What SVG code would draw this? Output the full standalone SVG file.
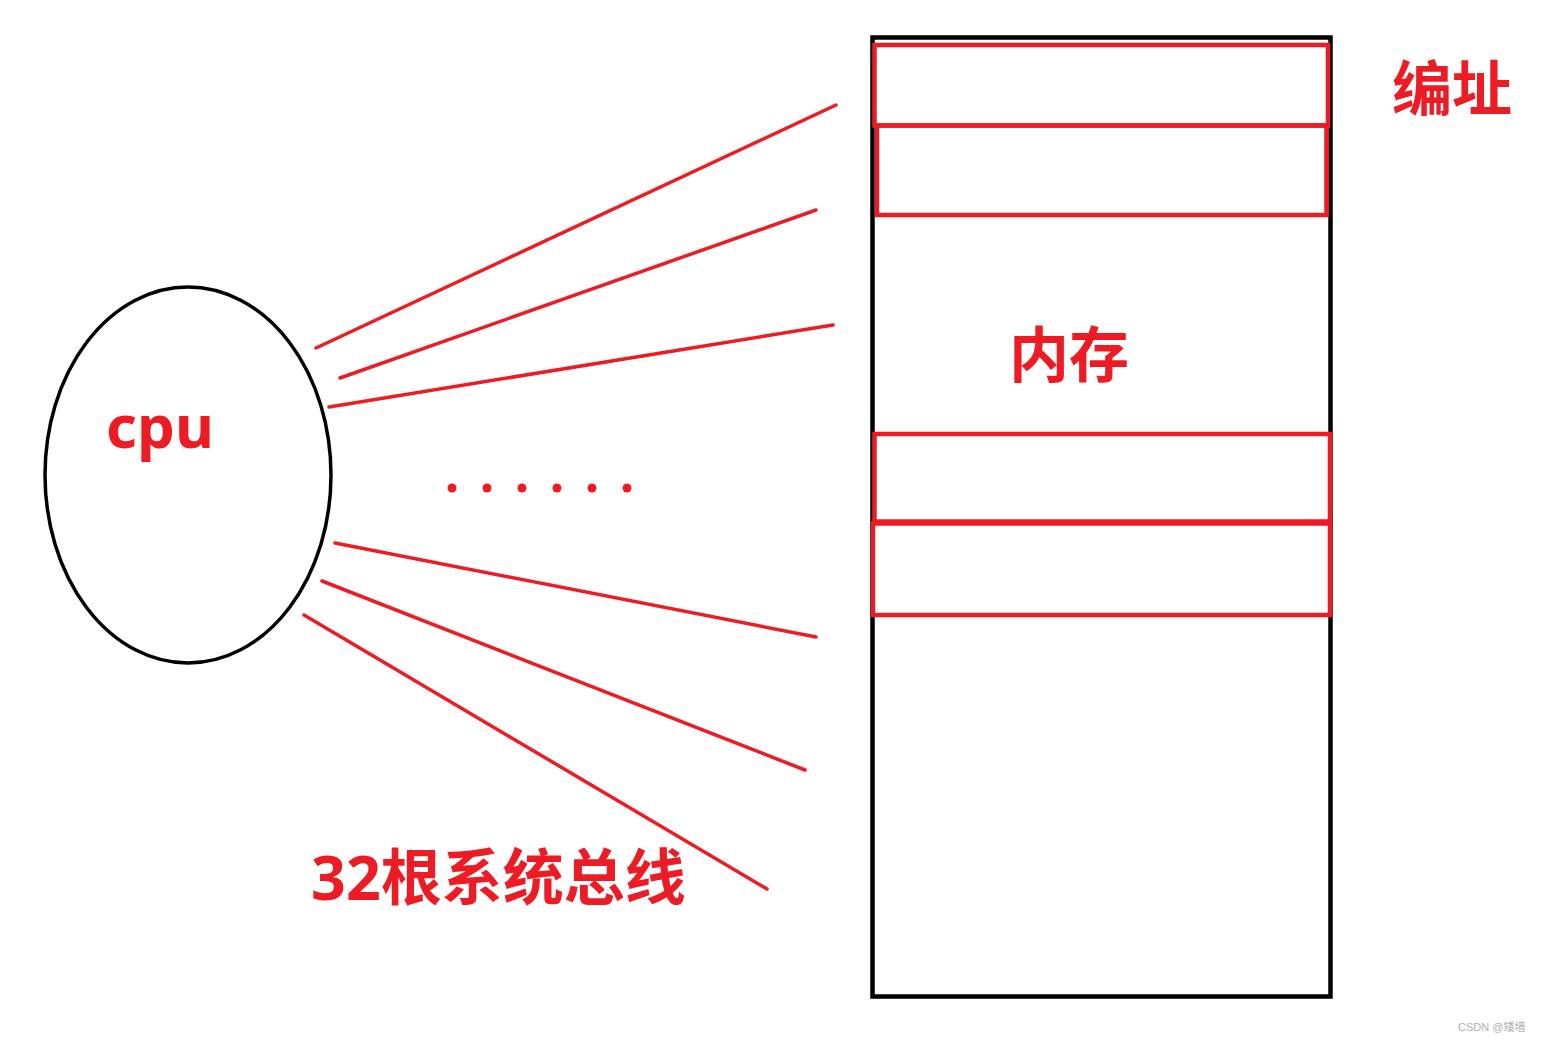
<svg xmlns="http://www.w3.org/2000/svg" width="1541" height="1043" viewBox="0 0 1541 1043">
<style>
.bus{stroke:#ed1c24;stroke-width:3.5;stroke-linecap:round;fill:none}
.cell{stroke:#ed1c24;stroke-width:4.5;fill:none}
.lbl{fill:#ed1c24;font-family:"Noto Sans","Noto Sans CJK SC",sans-serif;font-weight:bold;font-size:60px}
.dot{fill:#ed1c24}
</style>
<rect width="1541" height="1043" fill="#ffffff"/>
<g id="cpu">
<ellipse cx="188" cy="475" rx="143" ry="188" fill="none" stroke="#000" stroke-width="3.5"/>
<text class="lbl" x="106" y="448">cpu</text>
</g>
<g id="memory">
<rect x="872.5" y="37.5" width="458" height="959" fill="none" stroke="#000" stroke-width="4.5"/>
<text class="lbl" x="1009" y="377">内存</text>
</g>
<g id="cell1"><rect class="cell" x="874.5" y="45" width="453.5" height="80.5"/></g>
<g id="cell2"><rect class="cell" x="877" y="125.5" width="449.5" height="89.5"/></g>
<g id="cell3"><rect class="cell" x="874.5" y="434" width="455.5" height="87.5"/></g>
<g id="cell4"><rect class="cell" x="873" y="523.5" width="457" height="91.5"/></g>
<g id="addr-label"><text class="lbl" x="1392" y="111">编址</text></g>
<g id="bus-label"><text class="lbl" x="311" y="900" style="font-size:61px">32根系统总线</text></g>
<g id="connectors">
<line class="bus" x1="316" y1="348" x2="836" y2="105"/>
<line class="bus" x1="340" y1="378" x2="816" y2="210"/>
<line class="bus" x1="329" y1="407" x2="833" y2="325"/>
<line class="bus" x1="335" y1="543" x2="816" y2="637"/>
<line class="bus" x1="322" y1="581" x2="805" y2="770"/>
<line class="bus" x1="304" y1="615" x2="767" y2="889"/>
</g>
<g id="ellipsis">
<circle class="dot" cx="452" cy="488" r="4.5"/>
<circle class="dot" cx="487" cy="488" r="4.5"/>
<circle class="dot" cx="522" cy="488" r="4.5"/>
<circle class="dot" cx="557" cy="488" r="4.5"/>
<circle class="dot" cx="592" cy="488" r="4.5"/>
<circle class="dot" cx="627" cy="488" r="4.5"/>
</g>
<text x="1458" y="1031" fill="#b0b0b0" font-family="'Liberation Sans','Noto Sans CJK SC',sans-serif" font-size="11">CSDN @矮墙</text>
</svg>
